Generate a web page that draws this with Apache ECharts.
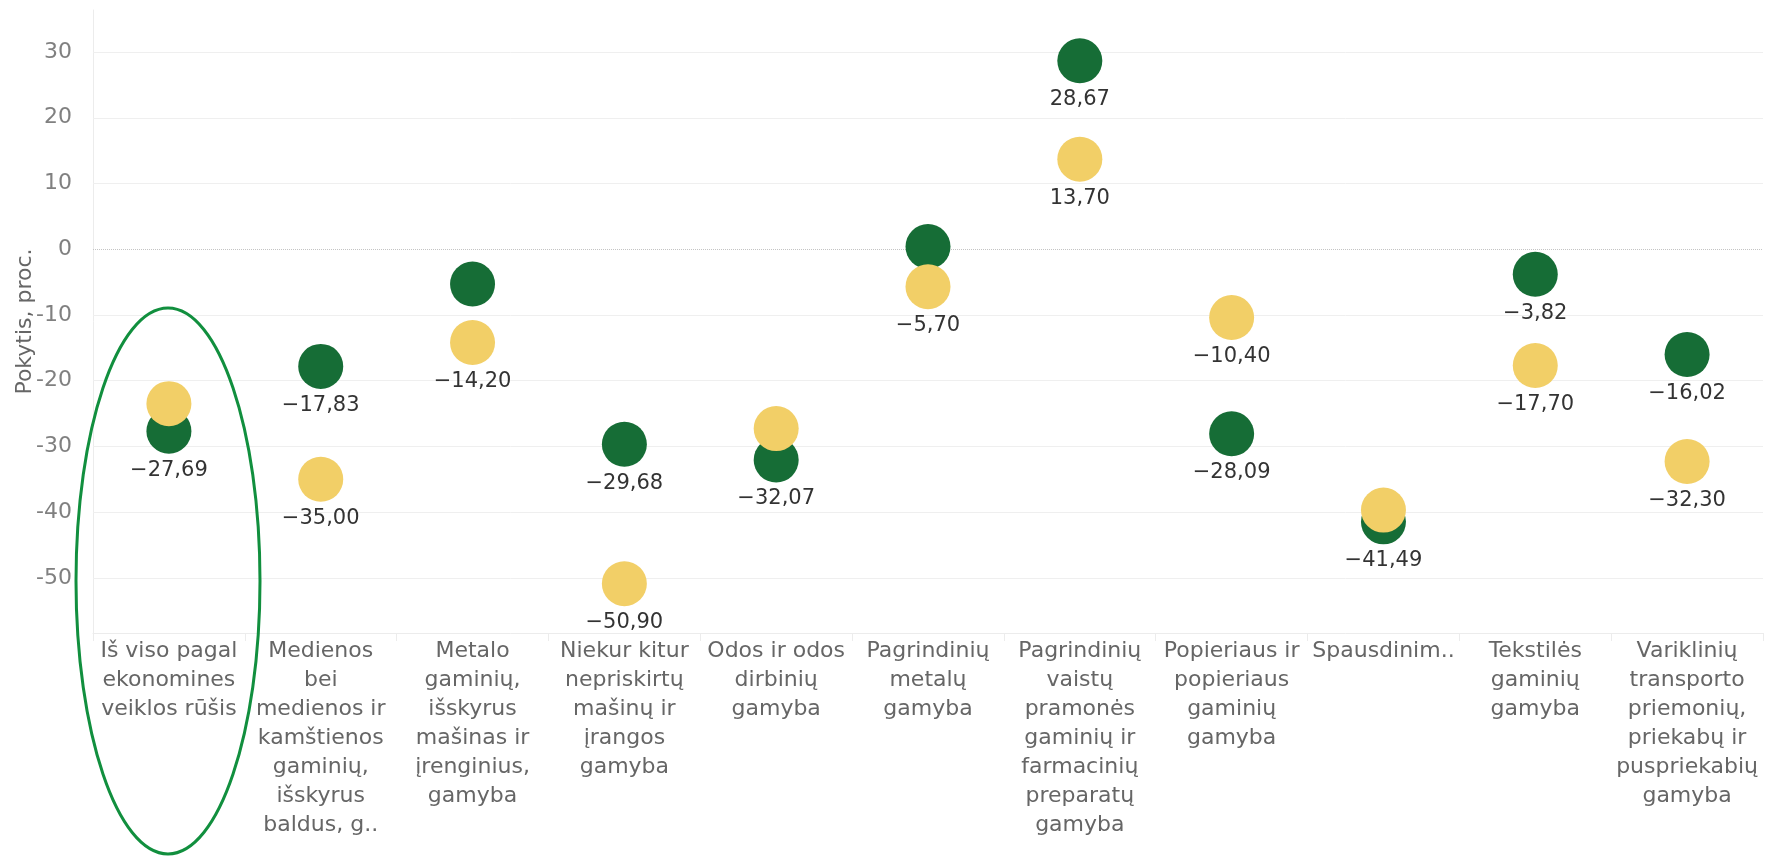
<!DOCTYPE html>
<html lang="lt" style="height: 100%">

<head>
  <meta charset="utf-8" />
</head>

<body style="height: 100%; margin: 0; background: #fff">
  <div id="container" style="width: 1787px; height: 857px;"></div>

  <script type="text/javascript" src="https://cdn.jsdelivr.net/npm/echarts@6/dist/echarts.min.js"></script>

  <script type="text/javascript">
    // kategorijos (eilučių laužymas kaip paveikslėlyje)
    var categories = [
      'Iš viso pagal\nekonomines\nveiklos rūšis',
      'Medienos\nbei\nmedienos ir\nkamštienos\ngaminių,\nišskyrus\nbaldus, g..',
      'Metalo\ngaminių,\nišskyrus\nmašinas ir\nįrenginius,\ngamyba',
      'Niekur kitur\nnepriskirtų\nmašinų ir\nįrangos\ngamyba',
      'Odos ir odos\ndirbinių\ngamyba',
      'Pagrindinių\nmetalų\ngamyba',
      'Pagrindinių\nvaistų\npramonės\ngaminių ir\nfarmacinių\npreparatų\ngamyba',
      'Popieriaus ir\npopieriaus\ngaminių\ngamyba',
      'Spausdinim..',
      'Tekstilės\ngaminių\ngamyba',
      'Variklinių\ntransporto\npriemonių,\npriekabų ir\npuspriekabių\ngamyba'
    ];

    // pokytis, proc.
    var greenValues = [-27.69, -17.83, -5.3, -29.68, -32.07, 0.4, 28.67, -28.09, -41.49, -3.82, -16.02];
    var yellowValues = [-23.5, -35.00, -14.20, -50.90, -27.3, -5.70, 13.70, -10.40, -39.7, -17.70, -32.30];

    // kurių taškų etiketės paslėptos
    var greenHiddenLabels = [2, 5];
    var yellowHiddenLabels = [0, 4, 8];

    // y ašies tinklelio linijos
    var yTicks = [-50, -40, -30, -20, -10, 0, 10, 20, 30];

    var FONT = "'DejaVu Sans', sans-serif";

    function fmt(v) {
      var s = Math.abs(v).toFixed(2).replace('.', ',');
      return (v < 0 ? '\u2212' : '') + s;
    }

    function toData(values, hidden) {
      return values.map(function (v, i) {
        return hidden.indexOf(i) >= 0 ? { value: v, label: { show: false } } : v;
      });
    }

    var dom = document.getElementById('container');
    var myChart = echarts.init(dom, null, { renderer: 'canvas' });

    var option = {
      animation: false,
      backgroundColor: '#ffffff',
      grid: {
        left: 93,
        right: 24,
        top: 10,
        bottom: 224,
        containLabel: false,
        outerBoundsMode: 'none'
      },
      xAxis: {
        type: 'category',
        data: categories,
        boundaryGap: true,
        axisLine: { show: true, onZero: false, lineStyle: { color: '#ececec', width: 1 } },
        axisTick: { show: true, interval: 0, length: 8, lineStyle: { color: '#ececec' } },
        axisLabel: {
          interval: 0,
          margin: 4,
          color: '#666666',
          fontFamily: FONT,
          fontSize: 22,
          lineHeight: 29,
          align: 'center',
          verticalAlign: 'top'
        },
        splitLine: { show: false }
      },
      yAxis: {
        type: 'value',
        min: -58.4,
        max: 36.4,
        splitNumber: 9,
        name: 'Pokytis, proc.',
        nameLocation: 'middle',
        nameGap: 57,
        nameMoveOverlap: false,
        nameTextStyle: { color: '#666666', fontFamily: FONT, fontSize: 22 },
        axisLine: { show: true, lineStyle: { color: '#ececec', width: 1 } },
        axisTick: { show: false },
        axisLabel: {
          margin: 21,
          color: '#808080',
          fontFamily: FONT,
          fontSize: 22,
          showMinLabel: false,
          showMaxLabel: false,
          formatter: function (v) {
            return yTicks.indexOf(v) >= 0 ? String(v) : '';
          }
        },
        splitLine: { show: false }
      },
      series: [
        {
          name: 'green',
          type: 'scatter',
          data: toData(greenValues, greenHiddenLabels),
          symbolSize: 45,
          itemStyle: { color: '#166d36', opacity: 1 },
          label: {
            show: true,
            position: 'bottom',
            distance: 6,
            formatter: function (p) { return fmt(p.value); },
            color: '#333333',
            fontFamily: FONT,
            fontSize: 21
          },
          z: 3,
          markLine: {
            silent: true,
            symbol: 'none',
            z: 1,
            label: { show: false },
            data: yTicks.map(function (t) {
              return {
                yAxis: t,
                lineStyle: t === 0
                  ? { color: '#c4c4c4', type: 'dotted', width: 1 }
                  : { color: '#efefef', type: 'solid', width: 1 }
              };
            })
          }
        },
        {
          name: 'yellow',
          type: 'scatter',
          data: toData(yellowValues, yellowHiddenLabels),
          symbolSize: 45,
          itemStyle: { color: '#f2cf67', opacity: 1 },
          label: {
            show: true,
            position: 'bottom',
            distance: 6,
            formatter: function (p) { return fmt(p.value); },
            color: '#333333',
            fontFamily: FONT,
            fontSize: 21
          },
          z: 4
        }
      ],
      graphic: [
        {
          type: 'ellipse',
          shape: { cx: 168, cy: 581, rx: 92, ry: 273 },
          style: { fill: 'none', stroke: '#118f3e', lineWidth: 3 },
          z: 100
        }
      ]
    };

    myChart.setOption(option);
    window.addEventListener('resize', myChart.resize);
  </script>
</body>

</html>
